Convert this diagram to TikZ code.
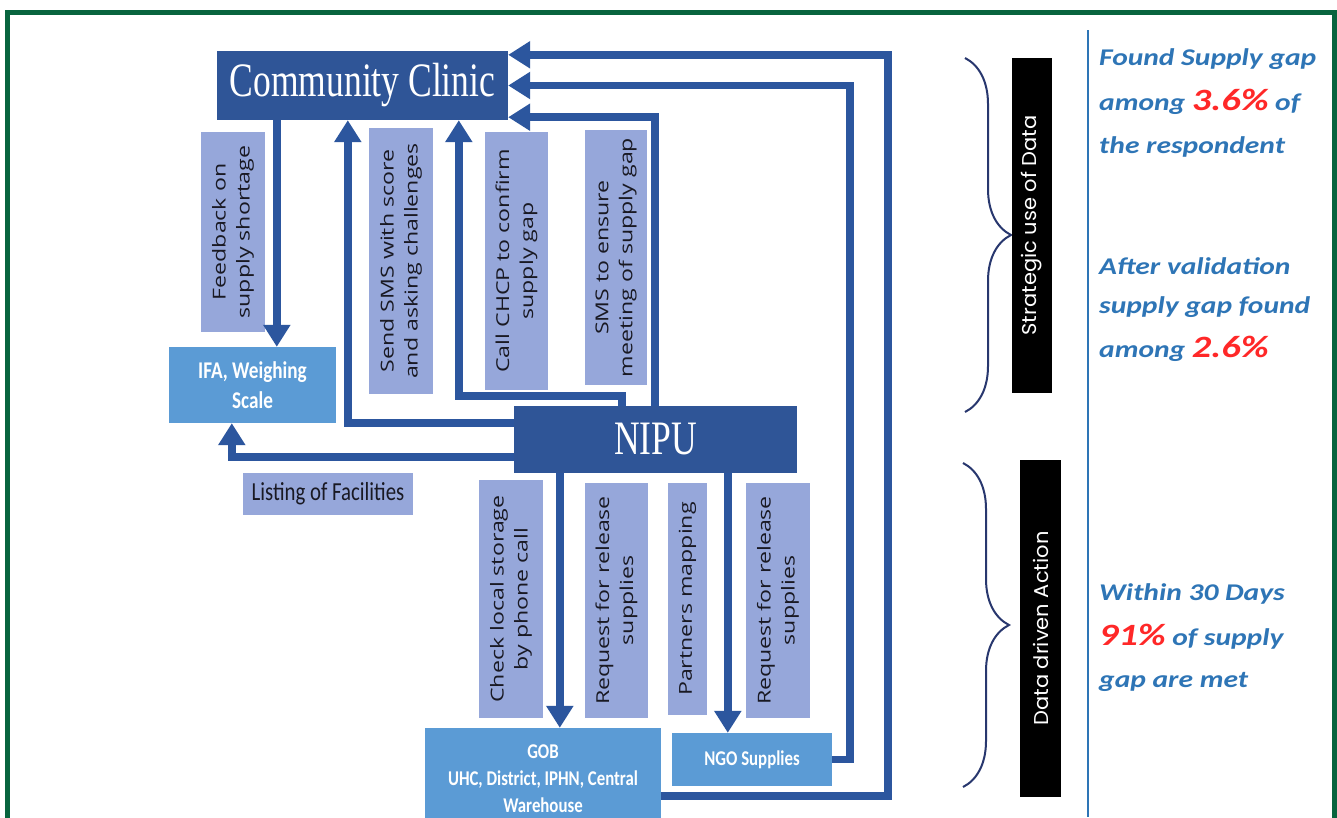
\documentclass[tikz,border=0pt]{standalone}
\usepackage{fontspec}
\usetikzlibrary{arrows.meta,decorations.pathreplacing}
\newfontfamily\headfont[FakeStretch=0.74]{Liberation Serif}
\newfontfamily\lblfont[FakeStretch=1.3]{Open Sans}
\newfontfamily\boxfont[FakeStretch=0.8]{Carlito}
\newfontfamily\barfont[FakeStretch=1.05]{Poppins}
\newfontfamily\notefont[FakeStretch=1.23]{Carlito}
\definecolor{ccblue}{RGB}{47,85,151}
\definecolor{lineblue}{RGB}{44,86,158}
\definecolor{midblue}{RGB}{91,155,213}
\definecolor{lblfill}{RGB}{150,167,218}
\definecolor{lbltext}{RGB}{25,25,35}
\definecolor{bracenavy}{RGB}{40,55,110}
\definecolor{noteblue}{RGB}{46,117,182}
\definecolor{hired}{RGB}{255,40,40}
\definecolor{framegreen}{RGB}{8,100,62}
\newcommand\pct[1]{{\color{hired}\fontsize{31}{31}\selectfont#1}}
\begin{document}
\begin{tikzpicture}[x=1pt,y=-1pt,
    mainbox/.style={fill=ccblue,text=white,inner sep=0pt,font=\headfont\fontsize{48}{48}\selectfont},
    supplybox/.style={fill=midblue,text=white,inner sep=0pt,align=center,font=\boxfont\bfseries\fontsize{21}{27}\selectfont},
    listbox/.style={fill=lblfill,text=lbltext,inner sep=0pt,font=\boxfont\fontsize{26}{26}\selectfont},
    notebox/.style={fill=lblfill,text=lbltext,inner sep=0pt,align=center,rotate=90,font=\lblfont\fontsize{17.8}{24}\selectfont},
    tagbar/.style={fill=black,text=white,inner sep=0pt,rotate=90,font=\barfont\fontsize{20}{20}\selectfont},
    flow/.style={draw=lineblue,line width=7.5pt,-{Triangle[length=22pt,width=26pt]}},
    curly/.style={draw=bracenavy,line width=2pt,decorate,decoration={brace,amplitude=46pt}},
    result/.style={anchor=base west,inner sep=0pt,text=noteblue,font=\notefont\bfseries\itshape\fontsize{24}{24}\selectfont}]
  \useasboundingbox (0,0) rectangle (1337,817);
  \fill[white] (0,0) rectangle (1337,817);
  \draw[framegreen,line width=5pt] (7.5,830) -- (7.5,12.5) -- (1334,12.5) -- (1334,830);

  \node[mainbox,minimum width=291pt,minimum height=69pt] (cc) at (362.5,85.5) {Community Clinic};
  \node[mainbox,minimum width=283pt,minimum height=67pt] (nipu) at (655.5,439.5) {NIPU};

  \node[notebox,minimum width=200pt,minimum height=64pt] (fb) at (233,232) {Feedback on\\supply shortage};
  \node[notebox,minimum width=266pt,minimum height=64pt] (sms) at (401,261) {Send SMS with score\\and asking challenges};
  \node[notebox,minimum width=258pt,minimum height=63pt] (chcp) at (516.5,261) {Call CHCP to confirm\\supply gap};
  \node[notebox,minimum width=255pt,minimum height=62pt] (meet) at (616,257.5) {SMS to ensure\\meeting of supply gap};
  \node[notebox,minimum width=238pt,minimum height=64pt] (chk) at (511,599) {Check local storage\\by phone call};
  \node[notebox,minimum width=235pt,minimum height=63pt] (reqa) at (616.5,600.5) {Request for release\\supplies};
  \node[notebox,minimum width=232pt,minimum height=39pt] (prt) at (687.5,599) {Partners mapping};
  \node[notebox,minimum width=235pt,minimum height=64pt] (reqb) at (778,600.5) {Request for release\\supplies};

  \node[supplybox,minimum width=167pt,minimum height=76pt,font=\boxfont\bfseries\fontsize{24}{30}\selectfont] (ifa) at (252.5,385) {IFA, Weighing\\Scale};
  \node[listbox,minimum width=170pt,minimum height=42pt] (list) at (328,494) {Listing of Facilities};
  \node[supplybox,minimum width=236pt,minimum height=102pt] (gob) at (543,779) {GOB\\UHC, District, IPHN, Central\\Warehouse};
  \node[supplybox,minimum width=160pt,minimum height=53pt] (ngo) at (752,759.5) {NGO Supplies};

  \coordinate (fbx) at ([xshift=60pt]cc.south west);
  \coordinate (smsx) at ([xshift=131pt]cc.south west);
  \coordinate (chcpx) at ([xshift=242pt]cc.south west);
  \coordinate (gobx) at ([xshift=46pt]nipu.south west);
  \coordinate (ngox) at ([xshift=214pt]nipu.south west);

  \draw[flow] (fbx) -- (fbx |- ifa.north);
  \draw[flow] ([yshift=-17pt]nipu.north west) -| (smsx);
  \draw[flow] ([xshift=108pt]nipu.north west) -- ++(0,-10) -| (chcpx);
  \draw[flow] ([xshift=141pt]nipu.north west) |- ([yshift=3pt]cc.south east);
  \draw[flow] ([yshift=16pt]nipu.south west) -| ([xshift=63pt]ifa.south west);
  \draw[flow] (gobx) -- (gobx |- gob.north);
  \draw[flow] (ngox) -- (ngox |- ngo.north);
  \draw[flow] (ngo.east) -- ++(18,0) |- (cc.east);
  \draw[flow] ([yshift=-68pt]gob.north east) -- ++(227,0) |- ([yshift=-4pt]cc.north east);

  \draw[curly] (965,58) -- (965,412);
  \draw[curly] (963,463) -- (963,787);
  \node[tagbar,minimum width=335pt,minimum height=40pt] (bara) at (1032,225.5) {Strategic use of Data};
  \node[tagbar,minimum width=337pt,minimum height=41pt] (barb) at (1040.5,628.5) {Data driven Action};
  \draw[noteblue,line width=1.5pt] (1088,30) -- (1088,817);

  \node[result] (ra) at (1099,65) {Found Supply gap};
  \node[result] (rb) at (1099,110) {among \pct{3.6\%} of};
  \node[result] (rc) at (1099,153) {the respondent};
  \node[result] (rd) at (1099,274) {After validation};
  \node[result] (re) at (1099,313) {supply gap found};
  \node[result] (rf) at (1099,357) {among \pct{2.6\%}};
  \node[result] (rg) at (1099,600) {Within 30 Days};
  \node[result] (rh) at (1099,645) {\pct{91\%} of supply};
  \node[result] (ri) at (1099,687) {gap are met};
\end{tikzpicture}
\end{document}
